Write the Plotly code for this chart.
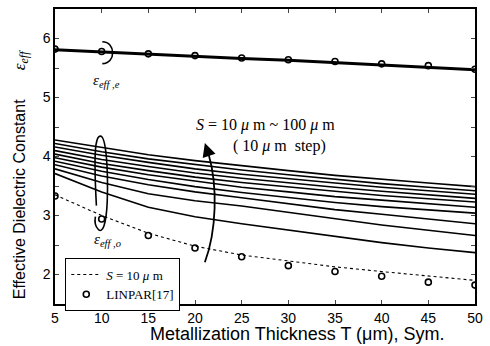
import plotly.graph_objects as go

# ---------------- data ----------------
T = [5, 10, 15, 20, 25, 30, 35, 40, 45, 50]

even_curve = [5.81, 5.77, 5.73, 5.70, 5.66, 5.63, 5.59, 5.56, 5.52, 5.47]
even_linpar = [5.82, 5.78, 5.74, 5.71, 5.67, 5.64, 5.61, 5.57, 5.54, 5.48]

# odd-mode curves (bottom to top)
odd_curves = [
    [3.71, 3.40, 3.14, 2.98, 2.86, 2.75, 2.64, 2.54, 2.45, 2.37],
    [3.79, 3.56, 3.37, 3.25, 3.16, 3.05, 2.95, 2.84, 2.75, 2.66],
    [3.86, 3.67, 3.52, 3.40, 3.30, 3.20, 3.10, 3.02, 2.94, 2.86],
    [3.92, 3.75, 3.61, 3.49, 3.39, 3.30, 3.22, 3.15, 3.09, 3.04],
    [3.98, 3.82, 3.69, 3.58, 3.48, 3.40, 3.32, 3.26, 3.20, 3.14],
    [4.04, 3.88, 3.76, 3.65, 3.56, 3.48, 3.41, 3.34, 3.28, 3.23],
    [4.10, 3.95, 3.83, 3.72, 3.63, 3.55, 3.48, 3.41, 3.35, 3.29],
    [4.16, 4.02, 3.90, 3.79, 3.70, 3.62, 3.55, 3.48, 3.42, 3.36],
    [4.22, 4.08, 3.96, 3.86, 3.77, 3.69, 3.61, 3.54, 3.48, 3.42],
    [4.28, 4.15, 4.03, 3.93, 3.84, 3.76, 3.68, 3.61, 3.55, 3.49],
]

odd_s10 = [3.35, 3.00, 2.70, 2.48, 2.33, 2.23, 2.13, 2.05, 1.98, 1.90]
odd_linpar = [3.33, 2.94, 2.66, 2.45, 2.30, 2.15, 2.05, 1.97, 1.87, 1.82]

x_ticks = [5, 10, 15, 20, 25, 30, 35, 40, 45, 50]
y_ticks = [2, 3, 4, 5, 6]

# ---------------- figure ----------------
fig = go.Figure()

for c in odd_curves:
    fig.add_trace(go.Scatter(x=T, y=c, mode="lines", line=dict(color="black", width=1.6),
                             showlegend=False, hoverinfo="skip"))

fig.add_trace(go.Scatter(x=T, y=even_curve, mode="lines", line=dict(color="black", width=3),
                         showlegend=False))

fig.add_trace(go.Scatter(x=T, y=odd_s10, mode="lines", line=dict(color="black", width=1.1, dash="dot"),
                         name="<i>S</i> = 10 <i>μ</i> m"))
fig.add_trace(go.Scatter(x=T, y=odd_linpar, mode="markers",
                         marker=dict(symbol="circle-open", size=6, color="black", line=dict(width=1.6)),
                         name="LINPAR[17]"))
fig.add_trace(go.Scatter(x=T, y=even_linpar, mode="markers",
                         marker=dict(symbol="circle-open", size=6, color="black", line=dict(width=1.6)),
                         showlegend=False))


# pixel -> data helper for decorations only
def P(xp, yp):
    return 5 + (xp - 55) * 45 / 426, 6.5 - (yp - 7) * 5 / 297


def path(cmds):
    out = []
    for c in cmds:
        op, pts = c[0], c[1:]
        s = op
        for (a, b) in pts:
            xx, yy = P(a, b)
            s += f" {xx:.3f},{yy:.3f}"
        out.append(s)
    return " ".join(out)


shapes = [
    dict(type="path", xref="x", yref="y",
         path=path([("M", (103, 40)), ("C", (117, 40), (117, 62), (103, 62))]),
         line=dict(color="black", width=1.6)),
    dict(type="path", xref="x", yref="y",
         path=path([("M", (97, 205)), ("C", (94, 150), (96, 135), (101, 135)),
                    ("C", (107, 135), (109, 170), (108, 200)),
                    ("C", (107, 225), (103, 233), (99, 229)),
                    ("C", (96, 226), (95, 221), (96, 216))]),
         line=dict(color="black", width=1.6)),
    dict(type="path", xref="x", yref="y",
         path=path([("M", (207, 262)), ("C", (219, 230), (220, 185), (211, 154))]),
         line=dict(color="black", width=1.8)),
]

ax0, ay0 = P(207, 142)
ax1, ay1 = P(211, 154)

arrow = dict(x=ax0, y=ay0, ax=ax1, ay=ay1, xref="x", yref="y", axref="x", ayref="y",
             showarrow=True, arrowhead=2, arrowsize=1.5, arrowwidth=1.8, arrowcolor="black", text="")

nb = "&nbsp;" * 7
texts = [
    dict(x=269, y=134, text="<i>S</i> = 10 <i>μ</i> m ~ 100 <i>μ</i> m<br>" + nb + "( 10 <i>μ</i> m  step)",
         font=dict(family="Liberation Serif", size=16, color="black")),
    dict(x=107, y=79, text="<i>ε</i><sub><i>eff ,e</i></sub>",
         font=dict(family="Liberation Serif", size=15, color="black")),
    dict(x=108, y=240, text="<i>ε</i><sub><i>eff ,o</i></sub>",
         font=dict(family="Liberation Serif", size=15, color="black")),
    dict(x=20, y=58, text="<i>ε</i><sub><i>eff</i></sub>", textangle=-90,
         font=dict(family="Liberation Serif", size=17, color="black")),
    dict(x=19, y=199, text="Effective Dielectric Constant", textangle=-90,
         font=dict(family="Liberation Sans", size=16, color="black")),
    dict(x=300, y=334, text="Metallization Thickness T (μm), Sym.",
         font=dict(family="Liberation Sans", size=18, color="black")),
]

W, H = 490, 346
L, R, TT, B = 55, 9, 7, 42
pw, ph = W - L - R, H - TT - B
annotations = [arrow]
for a in texts:
    a.update(xref="paper", yref="paper", xanchor="center", yanchor="middle", showarrow=False,
             x=(a["x"] - L) / pw, y=(H - B - a["y"]) / ph)
    annotations.append(a)

fig.update_layout(
    width=W, height=H,
    margin=dict(l=L, r=R, t=TT, b=B),
    paper_bgcolor="white", plot_bgcolor="white",
    font=dict(family="Liberation Sans", size=14, color="black"),
    shapes=shapes, annotations=annotations,
    legend=dict(x=0.024, y=0.155, xanchor="left", yanchor="top",
                bordercolor="black", borderwidth=1.2, bgcolor="white",
                font=dict(family="Liberation Serif", size=13, color="black"),
                tracegroupgap=0, itemwidth=30),
    showlegend=True,
)
fig.update_xaxes(range=[5, 50], tickvals=x_ticks, ticks="inside", ticklen=4, tickwidth=1,
                 showline=True, linecolor="black", linewidth=1.5, mirror="ticks",
                 showgrid=False, zeroline=False, tickfont=dict(size=14))
fig.update_yaxes(range=[1.5, 6.5], tickvals=y_ticks, ticks="inside", ticklen=4, tickwidth=1,
                 showline=True, linecolor="black", linewidth=1.5, mirror="ticks",
                 showgrid=False, zeroline=False, tickfont=dict(size=14),
                 minor=dict(tickvals=[1.5, 2.5, 3.5, 4.5, 5.5, 6.5], ticks="inside", ticklen=4))

fig.write_html("out.html")
